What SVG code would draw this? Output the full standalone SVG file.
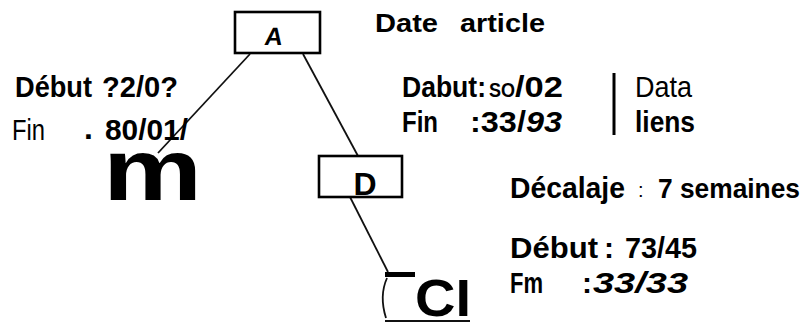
<svg xmlns="http://www.w3.org/2000/svg" width="812" height="323" viewBox="0 0 812 323">
<style>
text{font-family:"Liberation Sans",Arial,sans-serif;fill:#000}
.b{font-weight:bold}
.t{font-size:30px}
.box{fill:#fff;stroke:#000;stroke-width:2.6}
.ln{stroke:#111;stroke-width:1.8;fill:none}
</style>
<rect width="812" height="323" fill="#fff"/>
<g id="connectors">
<line class="ln" x1="250" y1="54" x2="158" y2="153"/>
<line class="ln" x1="303" y1="54" x2="358" y2="156"/>
<line class="ln" x1="350" y1="197" x2="388" y2="272"/>
</g>
<g id="node-A">
<rect class="box" x="235" y="12" width="85" height="41"/>
<text class="b" x="273" y="45" font-size="25" transform="skewX(-8) translate(6,0)" text-anchor="middle">A</text>
</g>
<g id="node-D">
<rect class="box" x="319" y="156" width="83" height="41"/>
<text class="b" x="365" y="195" font-size="32" text-anchor="middle">D</text>
</g>
<g id="node-C">
<rect x="385" y="272" width="30" height="5" fill="#000"/>
<path class="ln" d="M387,278 Q379,296 386,318"/>
<line class="ln" x1="385" y1="321" x2="470" y2="321"/>
<text class="b" x="415" y="316" font-size="52" textLength="56" lengthAdjust="spacingAndGlyphs">CI</text>
</g>
<g id="node-m">
<text class="b" x="103" y="200" font-size="88" textLength="99" lengthAdjust="spacingAndGlyphs">m</text>
</g>
<g id="label-date">
<text class="b" x="375" y="32" font-size="25" textLength="63" lengthAdjust="spacingAndGlyphs">Date</text>
<text class="b" x="460" y="32" font-size="25" textLength="85" lengthAdjust="spacingAndGlyphs">article</text>
</g>
<g id="label-left">
<text class="b t" x="15" y="97" textLength="77" lengthAdjust="spacingAndGlyphs">Début</text>
<text class="b t" x="102" y="97" textLength="76" lengthAdjust="spacingAndGlyphs">?2/0?</text>
<text class="t" x="12" y="140" textLength="33" lengthAdjust="spacingAndGlyphs">Fin</text>
<text class="b" x="84" y="139" font-size="32">.</text>
<text class="b t" x="105" y="140" textLength="83" lengthAdjust="spacingAndGlyphs">80/01/</text>
</g>
<g id="label-right">
<text class="b t" x="402" y="97" textLength="84" lengthAdjust="spacingAndGlyphs">Dabut:</text>
<text class="b" x="489" y="97" font-size="21" textLength="26" lengthAdjust="spacingAndGlyphs">SO</text>
<text class="b t" x="515" y="97" textLength="48" lengthAdjust="spacingAndGlyphs">/02</text>
<text class="b t" x="402" y="132" textLength="36" lengthAdjust="spacingAndGlyphs">Fin</text>
<text class="b t" x="470" y="132" textLength="92" lengthAdjust="spacingAndGlyphs">:33/<tspan font-style="italic">93</tspan></text>
<line x1="614" y1="73" x2="614" y2="135" stroke="#000" stroke-width="3"/>
<text class="t" x="635" y="97" textLength="57" lengthAdjust="spacingAndGlyphs">Data</text>
<text class="b t" x="635" y="132" textLength="60" lengthAdjust="spacingAndGlyphs">liens</text>
</g>
<g id="label-decalage">
<text class="b t" x="510" y="198" textLength="115" lengthAdjust="spacingAndGlyphs">Décalaje</text>
<text x="638" y="197" font-size="20" fill="#444">:</text>
<text class="b" x="658" y="198" font-size="28" textLength="142" lengthAdjust="spacingAndGlyphs">7 semaines</text>
<text class="b t" x="510" y="258" textLength="88" lengthAdjust="spacingAndGlyphs">Début</text>
<text class="b t" x="604" y="258">:</text>
<text class="b t" x="625" y="258" textLength="72" lengthAdjust="spacingAndGlyphs">73/45</text>
<text class="b t" x="510" y="293" textLength="33" lengthAdjust="spacingAndGlyphs">Fm</text>
<text class="b t" x="582" y="293">:</text>
<text class="b t" x="593" y="293" font-style="italic" textLength="95" lengthAdjust="spacingAndGlyphs">33/33</text>
</g>
</svg>
